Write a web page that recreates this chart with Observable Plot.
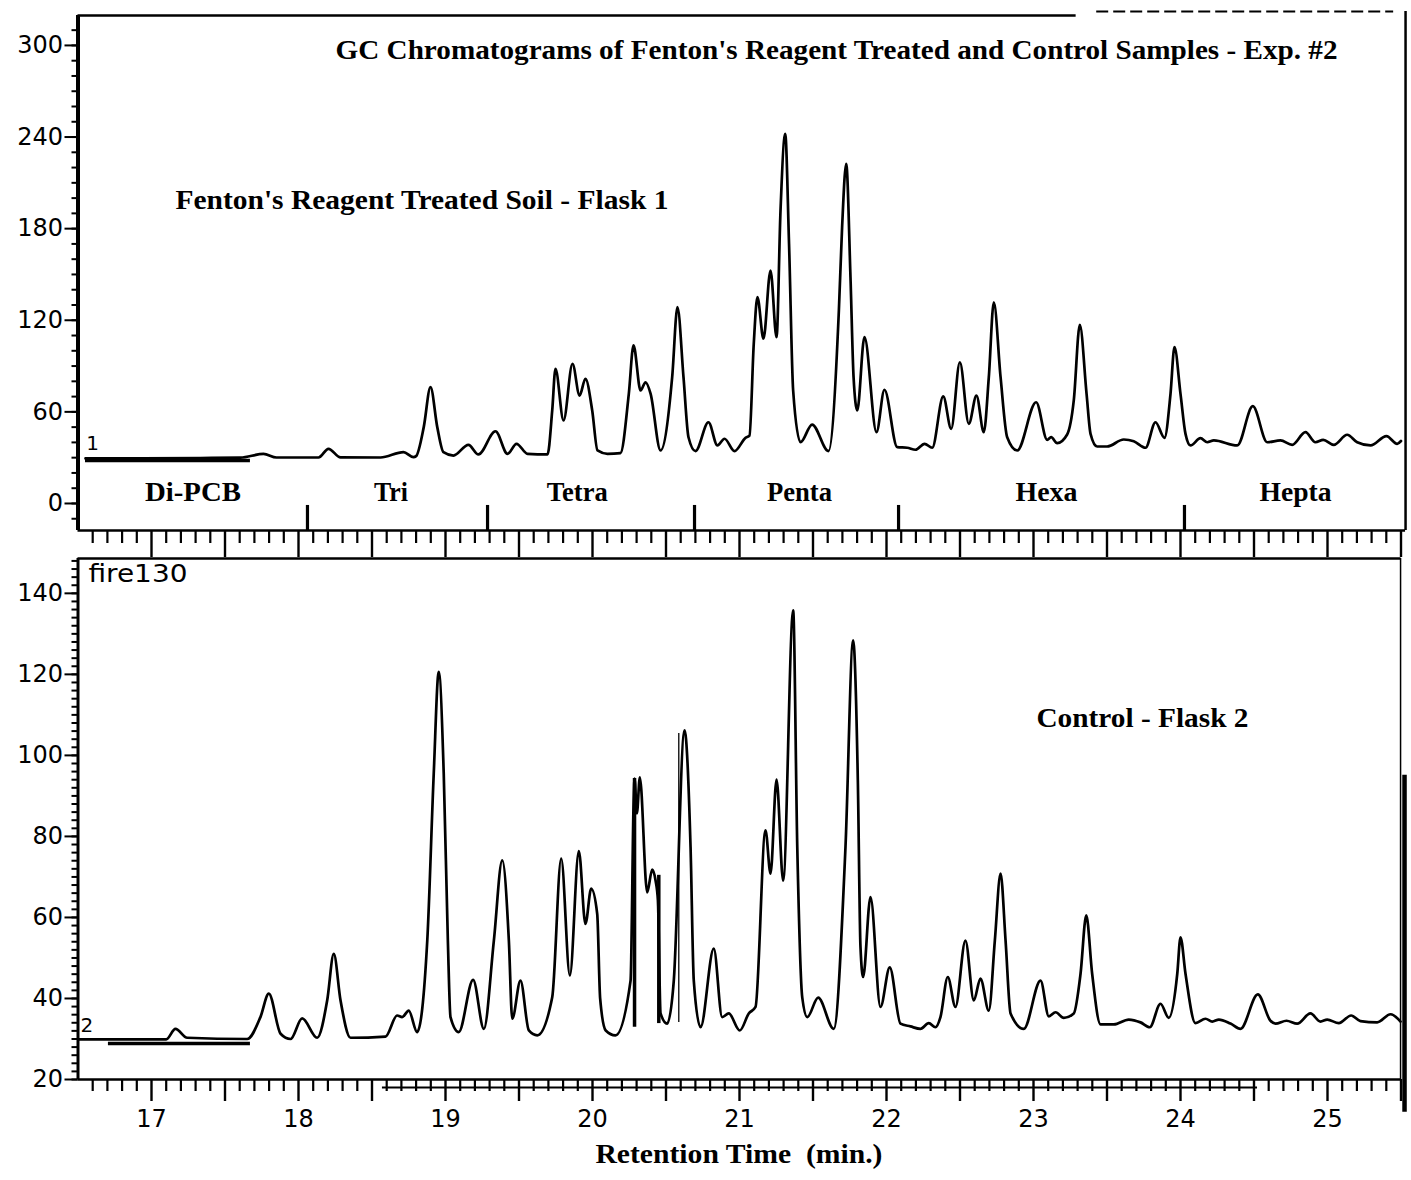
<!DOCTYPE html>
<html><head><meta charset="utf-8">
<script src="https://cdn.jsdelivr.net/npm/d3@7"></script>
<script src="https://cdn.jsdelivr.net/npm/@observablehq/plot@0.6"></script>
<style>
body{margin:0;background:#fff;}
#fig{position:relative;width:1411px;height:1180px;background:#fff;overflow:hidden}
#fig svg{position:absolute;left:0;overflow:visible}
</style></head><body><div id="fig"></div>
<script>
// ---------- data ----------
const treatedTime = [16.551,16.857,17.333,17.605,17.762,17.850,18.136,18.204,18.286,18.558,18.714,18.782,18.800,18.852,18.898,18.944,18.986,19.054,19.156,19.224,19.340,19.422,19.483,19.558,19.694,19.726,19.748,19.803,19.864,19.912,19.952,19.998,20.034,20.102,20.190,20.247,20.279,20.327,20.361,20.395,20.463,20.542,20.578,20.619,20.653,20.701,20.789,20.850,20.898,20.966,21.041,21.068,21.097,21.122,21.163,21.211,21.252,21.279,21.311,21.337,21.365,21.415,21.494,21.605,21.676,21.698,21.726,21.755,21.776,21.801,21.850,21.932,21.986,22.073,22.141,22.197,22.259,22.311,22.386,22.440,22.499,22.560,22.612,22.662,22.696,22.730,22.776,22.821,22.889,23.018,23.093,23.120,23.161,23.229,23.274,23.315,23.361,23.388,23.433,23.501,23.614,23.682,23.762,23.830,23.891,23.932,23.959,24.000,24.034,24.068,24.136,24.182,24.227,24.386,24.492,24.590,24.680,24.760,24.850,24.918,24.971,25.043,25.134,25.202,25.293,25.401,25.474,25.500];
const treatedSignal = [29.5,29.6,29.8,30.0,32.5,30.1,30.1,35.8,30.2,30.1,33.6,30.3,31.0,50.0,76.2,50.0,33.6,31.4,38.4,32.1,47.3,32.5,39.1,32.5,32.1,60.9,88.2,54.4,91.5,70.7,81.7,60.9,34.7,32.5,33.0,71.8,103.5,74.0,79.4,72.0,34.7,82.7,128.6,82.7,43.4,34.3,53.2,38.0,42.4,34.3,43.0,44.5,104.6,135.1,107.9,152.6,108.9,191.9,242.1,170.1,74.0,40.1,51.7,34.3,126.4,181.0,222.5,148.2,82.7,60.9,108.9,46.7,74.5,36.9,36.5,35.2,39.1,36.5,70.1,48.9,92.5,52.2,70.7,46.7,82.7,131.8,82.7,43.4,34.7,66.3,41.7,43.4,39.5,45.2,67.5,117.0,71.8,45.6,37.3,37.3,41.9,40.8,36.5,53.2,43.0,71.8,102.4,71.8,45.6,38.0,42.8,40.1,41.3,38.0,63.7,40.1,41.3,38.4,46.7,40.1,41.7,38.4,45.0,40.1,38.0,44.1,39.1,40.9];

const controlTime = [16.503,16.857,17.100,17.163,17.243,17.651,17.741,17.798,17.878,17.946,18.025,18.127,18.195,18.240,18.286,18.354,18.592,18.671,18.705,18.750,18.807,18.876,18.920,18.954,18.988,19.016,19.034,19.090,19.188,19.261,19.329,19.386,19.431,19.454,19.510,19.567,19.624,19.726,19.787,19.846,19.907,19.952,19.991,20.032,20.052,20.090,20.156,20.259,20.280,20.286,20.302,20.322,20.372,20.406,20.429,20.445,20.463,20.508,20.553,20.626,20.667,20.689,20.735,20.825,20.882,20.927,21.002,21.063,21.109,21.177,21.211,21.252,21.297,21.365,21.393,21.427,21.461,21.535,21.641,21.721,21.773,21.805,21.823,21.841,21.891,21.959,22.022,22.095,22.163,22.231,22.288,22.333,22.367,22.417,22.469,22.537,22.594,22.639,22.696,22.737,22.776,22.810,22.844,22.934,23.048,23.104,23.150,23.206,23.274,23.320,23.359,23.399,23.456,23.546,23.648,23.728,23.791,23.864,23.920,23.978,24.000,24.034,24.102,24.170,24.216,24.261,24.340,24.408,24.526,24.612,24.646,24.721,24.794,24.884,24.952,24.998,25.077,25.161,25.224,25.338,25.429,25.497];
const controlSignal = [29.9,29.9,29.9,32.5,30.3,30.0,35.4,41.2,31.3,30.0,35.1,30.3,39.5,51.0,39.5,30.3,30.6,35.8,35.4,37.0,31.7,54.3,95.5,120.6,95.5,54.3,35.4,31.7,44.6,32.5,54.3,74.1,54.3,35.0,44.4,32.1,30.9,40.3,74.5,45.7,76.4,58.4,67.1,60.9,40.0,32.1,30.9,44.4,88.9,94.3,85.7,94.6,66.2,71.8,69.1,64.2,36.3,33.8,44.4,106.2,77.4,44.4,32.9,52.3,35.4,36.3,32.1,36.3,37.9,81.5,70.8,94.0,69.1,135.8,77.4,40.2,35.4,40.2,32.5,77.4,128.4,93.8,52.7,45.3,65.0,37.9,47.7,33.8,33.1,32.5,33.9,32.9,35.4,45.3,37.9,54.3,39.5,44.9,37.0,54.3,70.8,54.3,36.3,32.5,44.4,35.6,36.6,35.2,36.3,46.1,60.5,46.1,33.6,33.6,34.8,34.1,32.9,38.7,35.2,46.1,55.1,46.1,33.9,35.0,34.3,34.8,33.8,32.5,41.0,34.5,33.8,34.5,33.8,36.3,34.3,34.8,33.9,35.8,34.4,34.1,36.1,34.3];

// integration marker strokes on the control trace
const markerTimeThick = [20.286, 20.451];
const markerTopThick = [94.3, 70.4];
const markerBottomThick = [32.9, 33.8];
const markerTimeThin = [20.587];
const markerTopThin = [105.4];
const markerBottomThin = [34.1];

// baseline marks drawn under the start of each trace
const treatedBaseline = {start: 16.551, end: 17.673, level: 28.2};
const controlBaseline = {start: 16.707, end: 17.673, level: 28.9};

const homologNames = ["Di-PCB", "Tri", "Tetra", "Penta", "Hexa", "Hepta"];
const homologLabelTime = [17.282, 18.629, 19.896, 21.408, 23.088, 24.782];
const homologLabelLevel = 7.2;
const homologBoundaryTime = [18.061, 19.286, 20.694, 22.082, 24.027];

const xMajorTicks = [17, 18, 19, 20, 21, 22, 23, 24, 25];
const topYTicks = [0, 60, 120, 180, 240, 300];
const bottomYTicks = [20, 40, 60, 80, 100, 120, 140];

const titleText = "GC Chromatograms of Fenton's Reagent Treated and Control Samples - Exp. #2";
const treatedLabel = "Fenton's Reagent Treated Soil - Flask 1";
const controlLabel = "Control - Flask 2";
const fileLabel = "fire130";
const xTitle = "Retention Time  (min.)";

// ---------- drawing ----------
const W = 1411;
const xDomain = [16.5, 25.5];
const sans = "'DejaVu Sans', 'Liberation Sans', sans-serif";
const serif = "'Liberation Serif', 'Times New Roman', serif";
const minorTicks = d3.range(166, 255).map(d => d / 10).filter(d => Math.abs(d * 2 - Math.round(d * 2)) > 1e-6);
const halfTicks = d3.range(34, 52).map(d => d / 2);
const blank = () => "";
const common = {fontFamily: sans, fontSize: "24px", color: "black", background: "transparent", overflow: "visible"};

const topData = treatedTime.map((t, i) => ({t, v: treatedSignal[i]}));
const botData = controlTime.map((t, i) => ({t, v: controlSignal[i]}));
const bold = (data, o) => Plot.text(data, {text: d => d, fontFamily: serif, fontWeight: "bold", fontSize: 27, fill: "black", ...o});

const topY = [-17.7, 319.6];
const topPlot = Plot.plot({
  width: W, height: 558, marginLeft: 77.5, marginRight: 10.5, marginTop: 15, marginBottom: 28,
  x: {domain: xDomain}, y: {domain: topY},
  style: common,
  marks: [
    Plot.axisY({ticks: d3.range(-10, 320, 10), tickSize: 6, tickFormat: blank, label: null, strokeWidth: 2}),
    Plot.axisY({ticks: topYTicks, tickSize: 13, tickPadding: 2, label: null, strokeWidth: 2, fontSize: 24}),
    Plot.axisX({ticks: minorTicks, tickSize: 13, tickFormat: blank, label: null, strokeWidth: 2.2}),
    Plot.axisX({ticks: halfTicks, tickSize: 27, tickFormat: blank, label: null, strokeWidth: 2.4}),
    Plot.ruleX([16.5], {y1: topY[0], y2: topY[1], strokeWidth: 4}),
    Plot.ruleY([topY[0]], {x1: 16.5, x2: 25.531, strokeWidth: 2.5}),
    Plot.ruleY([topY[1]], {x1: 16.5, x2: 23.29, strokeWidth: 2.5}),
    Plot.ruleY([322.2], {x1: 23.43, x2: 25.45, strokeWidth: 2, strokeDasharray: "12,5"}),
    Plot.ruleX([25.531], {y1: topY[0], y2: 322.2, strokeWidth: 2.5}),
    Plot.ruleX(homologBoundaryTime, {y1: -1.3, y2: topY[0], strokeWidth: 3.2}),
    Plot.ruleY([treatedBaseline.level], {x1: treatedBaseline.start, x2: treatedBaseline.end, strokeWidth: 3.5}),
    Plot.line(topData, {x: "t", y: "v", curve: "monotone-x", strokeWidth: 2.7, stroke: "black"}),
    bold(homologNames, {x: (d, i) => homologLabelTime[i], y: homologLabelLevel, textAnchor: "middle"}),
    bold([titleText], {x: 18.252, y: 296.7, textAnchor: "start"}),
    bold([treatedLabel], {x: 17.163, y: 198.4, textAnchor: "start"}),
    Plot.text(["1"], {text: d => d, x: 16.556, y: 39.3, textAnchor: "start", fontSize: 20, fontFamily: sans, fill: "black"})
  ]
});

const botY = [20, 148.6];
const botPlot = Plot.plot({
  width: W, height: 622, marginLeft: 77.5, marginRight: 10.5, marginTop: 0, marginBottom: 101,
  x: {domain: xDomain}, y: {domain: botY},
  style: common,
  marks: [
    Plot.axisY({ticks: d3.range(20, 149, 2), tickSize: 6, tickFormat: blank, label: null, strokeWidth: 2}),
    Plot.axisY({ticks: bottomYTicks, tickSize: 13, tickPadding: 2, label: null, strokeWidth: 2, fontSize: 24}),
    Plot.axisX({ticks: minorTicks, tickSize: 12, tickFormat: blank, label: null, strokeWidth: 2.2}),
    Plot.axisX({ticks: halfTicks, tickSize: 22, tickFormat: blank, label: null, strokeWidth: 2.4}),
    Plot.axisX({ticks: xMajorTicks, tickSize: 0, tickPadding: 30, label: null, fontSize: 24}),
    Plot.ruleX([16.5], {y1: botY[0], y2: botY[1], strokeWidth: 3}),
    Plot.ruleY([botY[0]], {x1: 16.5, x2: 25.5, strokeWidth: 2.5}),
    Plot.ruleY([botY[1]], {x1: 16.5, x2: 25.5, strokeWidth: 2.5}),
    Plot.ruleY([18.0], {x1: 18.571, x2: 24.524, strokeWidth: 2}),
    Plot.ruleX([25.497], {y1: botY[0], y2: botY[1], strokeWidth: 1.5}),
    Plot.ruleX([25.524], {y1: 11.9, y2: 95.1, strokeWidth: 4.5}),
    Plot.ruleY([controlBaseline.level], {x1: controlBaseline.start, x2: controlBaseline.end, strokeWidth: 3.5}),
    Plot.ruleX(markerTimeThick, {y1: (d, i) => markerBottomThick[i], y2: (d, i) => markerTopThick[i], strokeWidth: 3.5}),
    Plot.ruleX(markerTimeThin, {y1: (d, i) => markerBottomThin[i], y2: (d, i) => markerTopThin[i], strokeWidth: 1.3}),
    Plot.line(botData, {x: "t", y: "v", curve: "monotone-x", strokeWidth: 2.7, stroke: "black"}),
    bold([controlLabel], {x: 23.020, y: 109.1, textAnchor: "start"}),
    bold([xTitle], {x: 20.020, frameAnchor: "bottom", dy: 83, textAnchor: "start"}),
    Plot.text([fileLabel], {text: d => d, x: 16.571, y: 144.7, textAnchor: "start", fontSize: 24, fontFamily: sans, fill: "black"}),
    Plot.text(["2"], {text: d => d, x: 16.517, y: 33.4, textAnchor: "start", fontSize: 20, fontFamily: sans, fill: "black"})
  ]
});

const fig = document.getElementById("fig");
topPlot.style.top = "0px";
botPlot.style.top = "558px";
fig.appendChild(topPlot);
fig.appendChild(botPlot);

// fit the typeset labels to the widths they take in the reference
const targetWidth = {
  [titleText]: 1002, [treatedLabel]: 493, [controlLabel]: 212, [xTitle]: 287, [fileLabel]: 99,
  "Di-PCB": 96, "Tri": 34, "Tetra": 61, "Penta": 65, "Hexa": 62, "Hepta": 72
};
fig.querySelectorAll("text").forEach(el => {
  const w = targetWidth[el.textContent];
  if (w) {
    el.setAttribute("textLength", w);
    el.setAttribute("lengthAdjust", "spacingAndGlyphs");
    el.style.whiteSpace = "pre";
  }
});
</script>
</body></html>
